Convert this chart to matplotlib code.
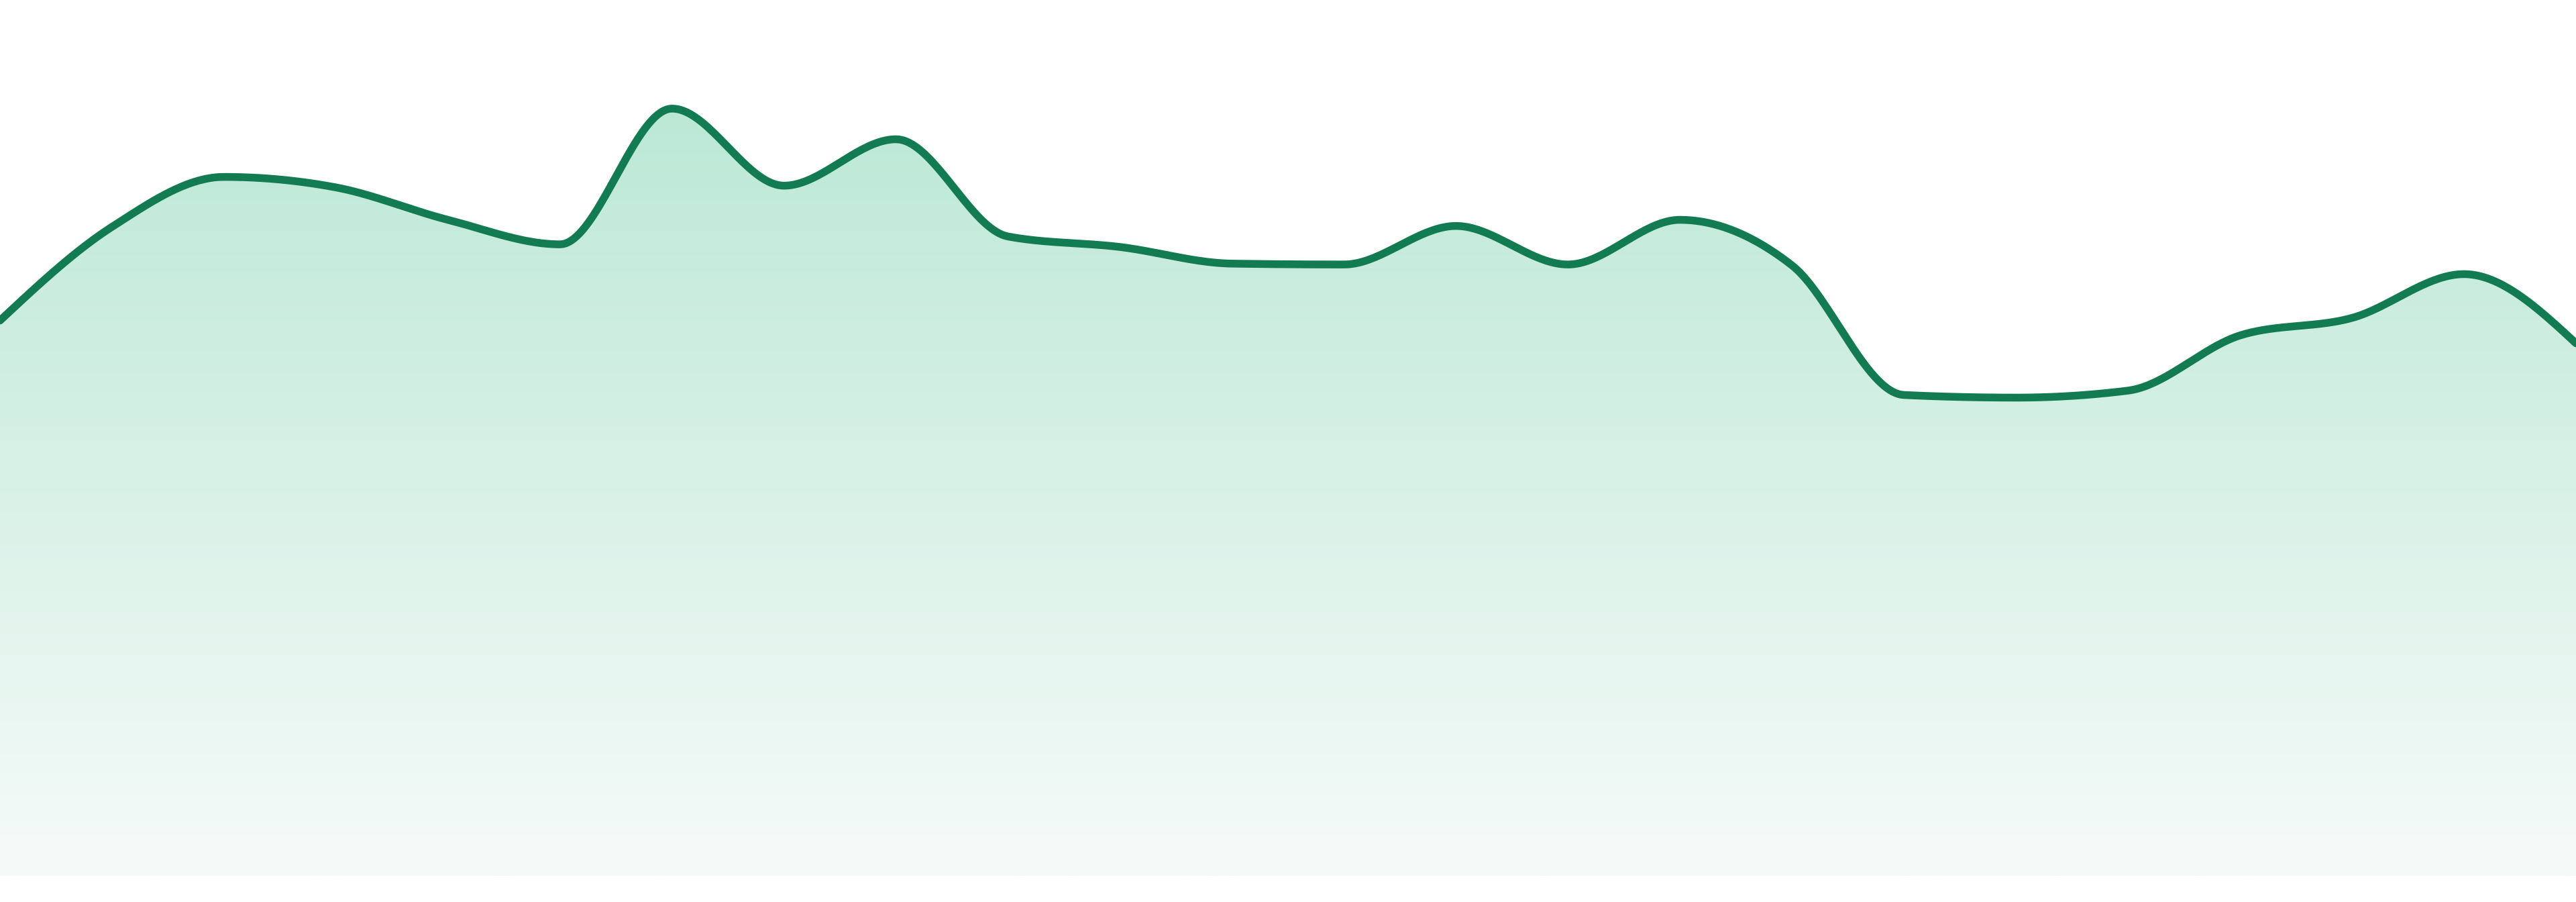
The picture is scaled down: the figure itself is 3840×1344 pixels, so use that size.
import numpy as np
import matplotlib
matplotlib.use("Agg")
from matplotlib import pyplot as plt
from matplotlib.colors import to_rgb

# series values (one point per step)
steps = list(range(24))
values = [63.4, 74.1, 79.8, 78.6, 74.9, 72.1, 87.6, 78.8, 84.1, 73.0, 71.8, 69.9,
          69.8, 74.2, 69.8, 74.9, 69.7, 54.9, 54.6, 55.4, 61.7, 63.7, 68.7, 60.8]

line_color = "#127b52"
fill_top = "#bce8d6"
fill_bottom = "#f6fbf9"


def monotone_curve(x, y, n=40):
    # monotone cubic (Steffen) like d3.curveMonotoneX
    x = np.asarray(x, float)
    y = np.asarray(y, float)
    h = np.diff(x)
    s = np.diff(y) / h
    m = np.zeros_like(y)
    for i in range(1, len(y) - 1):
        p = (s[i - 1] * h[i] + s[i] * h[i - 1]) / (h[i - 1] + h[i])
        m[i] = (np.sign(s[i - 1]) + np.sign(s[i])) * min(abs(s[i - 1]), abs(s[i]), 0.5 * abs(p))
    m[0] = (3 * s[0] - m[1]) / 2
    m[-1] = (3 * s[-1] - m[-2]) / 2
    xs, ys = [], []
    for i in range(len(x) - 1):
        t = np.linspace(0, 1, n, endpoint=False)
        h00 = 2 * t**3 - 3 * t**2 + 1
        h10 = t**3 - 2 * t**2 + t
        h01 = -2 * t**3 + 3 * t**2
        h11 = t**3 - t**2
        xs.append(x[i] + t * h[i])
        ys.append(h00 * y[i] + h10 * h[i] * m[i] + h01 * y[i + 1] + h11 * h[i] * m[i + 1])
    xs.append([x[-1]])
    ys.append([y[-1]])
    return np.concatenate(xs), np.concatenate(ys)


fig = plt.figure(figsize=(38.4, 13.44), dpi=100)
fig.patch.set_facecolor("white")
bottom = (1344 - 1305) / 1344
ax = fig.add_axes([0, bottom, 1, 1 - bottom])
ax.set_axis_off()

cx, cy = monotone_curve(steps, values)
top = 100.0
ax.set_xlim(steps[0], steps[-1])
ax.set_ylim(0, top)

# vertical gradient fill clipped to the area under the curve
area = ax.fill_between(cx, cy, 0, facecolor="none", edgecolor="none")
c0 = np.array(to_rgb(fill_top))
c1 = np.array(to_rgb(fill_bottom))
ymax = max(values)
yy = np.linspace(top, 0, 600)
frac = np.clip((ymax - yy) / ymax, 0, 1)[:, None]
grad = (c0 * (1 - frac) + c1 * frac)[:, None, :]
img = ax.imshow(grad, extent=[steps[0], steps[-1], 0, top], aspect="auto",
                origin="upper", interpolation="bilinear", zorder=1)
img.set_clip_path(area.get_paths()[0], transform=ax.transData)

ax.plot(cx, cy, color=line_color, linewidth=8.3, solid_capstyle="round",
        solid_joinstyle="round", zorder=3)

fig.savefig("out.png", dpi=100, facecolor="white")
